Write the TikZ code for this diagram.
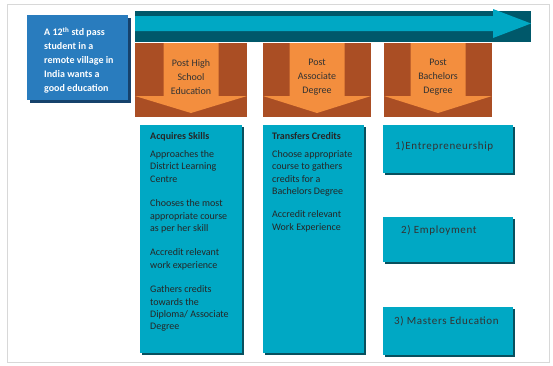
\documentclass[tikz,border=0pt]{standalone}
\usepackage{fontspec}
\setmainfont{Carlito}
\newfontfamily\spacedfont[LetterSpace=6]{Carlito}

\definecolor{bandteal}{RGB}{0,88,106}
\definecolor{boxcyan}{RGB}{0,168,196}
\definecolor{boxshade}{RGB}{8,80,94}
\definecolor{postbrown}{RGB}{170,78,36}
\definecolor{postorange}{RGB}{243,142,62}
\definecolor{startblue}{RGB}{41,124,190}
\definecolor{startshade}{RGB}{22,66,108}
\definecolor{framegray}{RGB}{216,216,216}

\tikzset{
  boxtext/.style={anchor=north west, inner sep=0pt, align=left, text=black!85, font=\fontsize{10}{12.3}\selectfont},
  posttext/.style={inner sep=0pt, align=center, text=black!80, font=\fontsize{10}{14}\selectfont},
  outtext/.style={anchor=west, inner sep=0pt, text=black!80, font=\spacedfont\fontsize{11}{13}\selectfont},
  starttext/.style={anchor=north west, inner sep=0pt, align=left, text=white, font=\bfseries\fontsize{10}{14}\selectfont},
}

\begin{document}
\begin{tikzpicture}[x=1pt,y=-1pt]
		%%%%% START %%%%%
		\useasboundingbox (0,0) rectangle (553,365);
		\draw[framegray, line width=1.5pt] (7.5,4.5) rectangle (549.5,362.5);
		
		% start box
		\fill[startshade] (30,18) rectangle (131,103);
		\fill[startblue] (27,15) rectangle (128,100);
		\node[starttext] (start) at (44,27) {A 12\textsuperscript{th} std pass\\student in a\\remote village in\\India wants a\\good education};
		
		% time line arrow
		\fill[bandteal] (135,11) rectangle (531,42);
		\fill[boxcyan] (135,16) -- (493,16) -- (493,9) -- (531,23.5) -- (493,38) -- (493,31) -- (135,31) -- cycle;
		
		% stages
		\foreach \xl/\xr/\txt [count=\i] in {135/247/{Post High\\School\\Education}, 263/371/{Post\\Associate\\Degree}, 384/492/{Post\\Bachelors\\Degree}} {
			\fill[postbrown] (\xl,43) rectangle (\xr,117);
			\pgfmathsetmacro\xm{(\xl+\xr)/2}
			\fill[postorange] (\xm-27.5,43) -- (\xm+27.5,43) -- (\xm+27.5,96) -- (\xr,96) -- (\xm,113) -- (\xl,96) -- (\xm-27.5,96) -- cycle;
			\node[posttext] (post\i) at (\xm,77) {\txt};
		}
		
		% column boxes
		\foreach \xl/\xr in {140/242, 263/364} {
			\fill[boxshade] (\xl+2,127) rectangle (\xr+2,355);
			\fill[boxcyan] (\xl,125) rectangle (\xr,353);
		}
		\node[boxtext] (skills) at (150,132.5) {{\bfseries Acquires Skills}\\[5.5pt]
			Approaches the\\District Learning\\Centre\\[12.5pt]
			Chooses the most\\appropriate course\\as per her skill\\[12pt]
			Accredit relevant\\work experience\\[12.5pt]
			Gathers credits\\towards the\\Diploma/ Associate\\Degree};
		\node[boxtext] (credits) at (272,132.5) {{\bfseries Transfers Credits}\\[5.5pt]
			Choose appropriate\\course to gathers\\credits for a\\Bachelors Degree\\[11pt]
			Accredit relevant\\Work Experience};
		
		% outcome boxes
		\foreach \yt/\yb in {125/173, 217/262, 307/355} {
			\fill[boxshade] (385,\yt+2) rectangle (515,\yb+2);
			\fill[boxcyan] (383,\yt) rectangle (513,\yb);
		}
		\node[outtext] (out1) at (395,146) {1)Entrepreneurship};
		\node[outtext] (out2) at (401,230) {2) Employment};
		\node[outtext] (out3) at (394,321) {3) Masters Education};
		
		%%%%% END %%%%%
\end{tikzpicture}
\end{document}
